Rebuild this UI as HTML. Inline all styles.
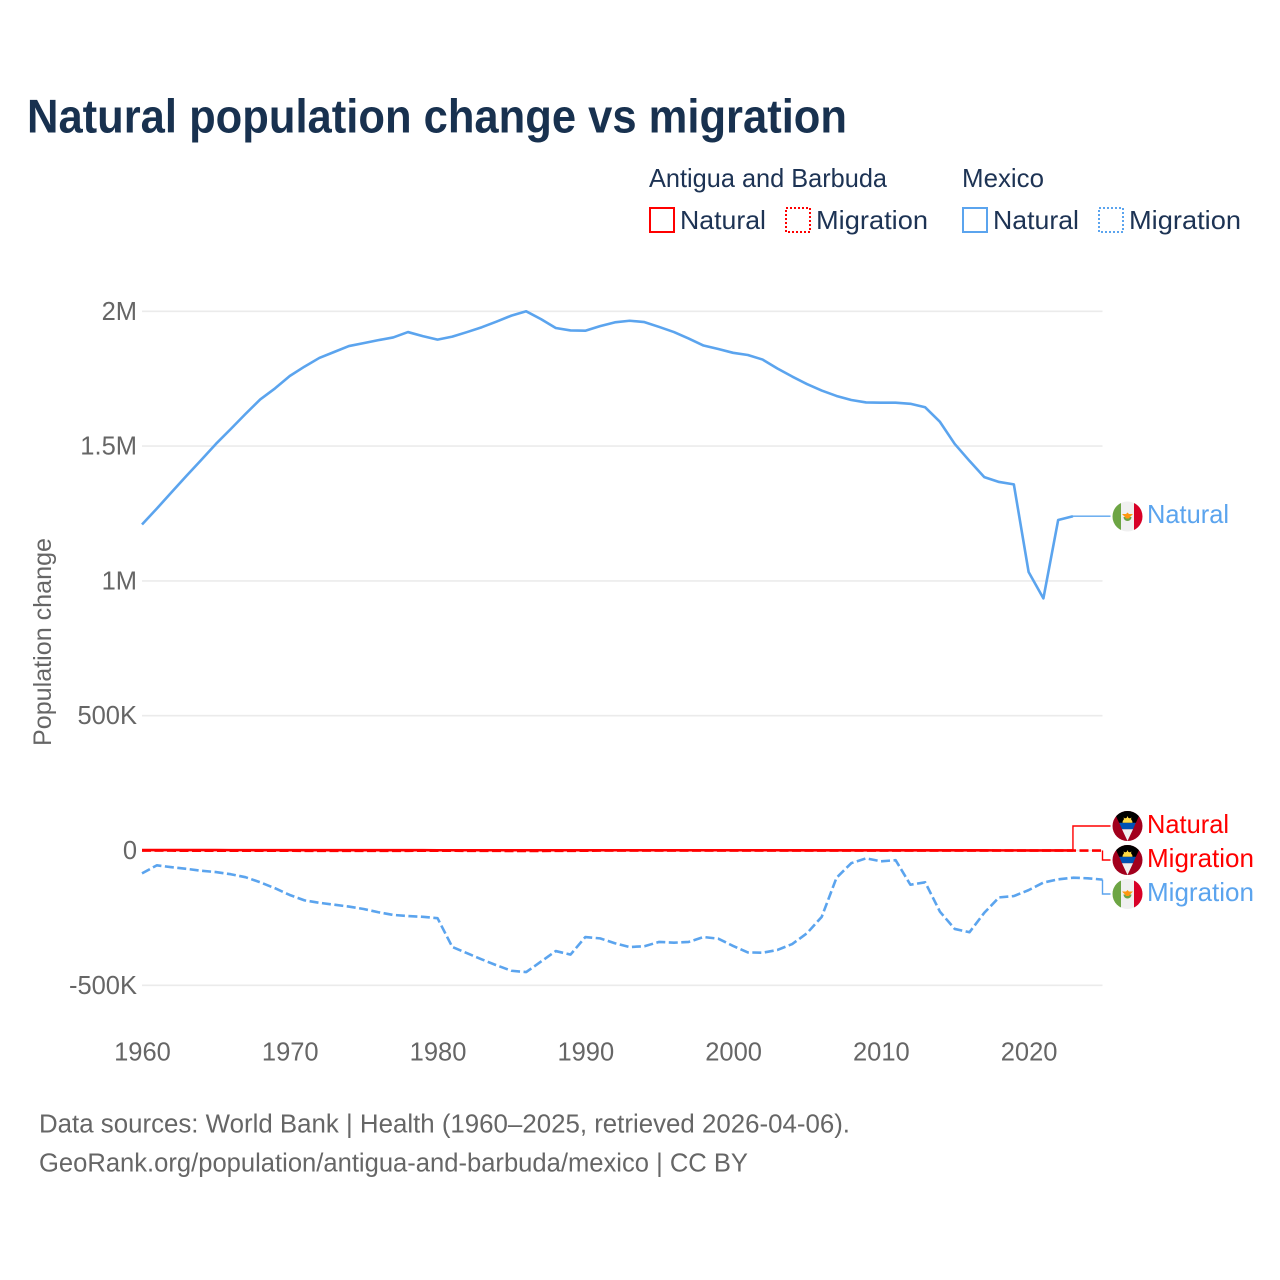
<!DOCTYPE html>
<html lang="en">
<head>
<meta charset="utf-8">
<title>Natural population change vs migration</title>
<style>
html,body{margin:0;padding:0;background:#fff;width:1280px;height:1280px;overflow:hidden}
svg{display:block;font-family:"Liberation Sans",sans-serif}
</style>
</head>
<body>
<svg id="chart" xmlns="http://www.w3.org/2000/svg" width="1280" height="1280" viewBox="0 0 1280 1280">
  <defs>
    <clipPath id="flag-clip"><circle cx="0" cy="0" r="15"/></clipPath>
    <g id="flag-ag" clip-path="url(#flag-clip)">
      <rect x="-15" y="-15" width="30" height="30" fill="#a2001d"/>
      <polygon points="-13.8,-15 13.8,-15 8.3,-3 -8.3,-3" fill="#000"/>
      <polygon points="-8.3,-3.2 8.3,-3.2 5.5,3.2 -5.5,3.2" fill="#0052b4"/>
      <polygon points="-5.5,3.2 5.5,3.2 0,15" fill="#f0f0f0"/>
      <path d="M-5,-3.2 A5,5 0 0 1 5,-3.2 Z" fill="#ffda44"/>
      <polygon points="0,-10 1.3,-7 4,-8.5 3,-5.5 -3,-5.5 -4,-8.5 -1.3,-7" fill="#ffda44"/>
    </g>
    <g id="flag-mx" clip-path="url(#flag-clip)">
      <rect x="-15" y="-15" width="30" height="30" fill="#f0f0f0"/>
      <rect x="-15" y="-15" width="8.5" height="30" fill="#6da544"/>
      <rect x="6.5" y="-15" width="8.5" height="30" fill="#d80027"/>
      <path d="M-4,0.5 A4,4 0 0 0 4,0.5 Z" fill="#6da544"/>
      <polygon points="-5.5,-2.5 -1.5,-2.5 0,-4 1.5,-2.5 5.5,-2.5 2.5,0.5 1.5,2 -1.5,2 -2.5,0.5" fill="#ff9811"/>
    </g>
  </defs>

  <text x="27" y="132.5" font-size="47" font-weight="700" fill="#18314f" textLength="820" lengthAdjust="spacingAndGlyphs">Natural population change vs migration</text>

  <g font-size="26" fill="#1d3354">
    <text x="649" y="187" textLength="238" lengthAdjust="spacingAndGlyphs">Antigua and Barbuda</text>
    <text x="962" y="187" textLength="82" lengthAdjust="spacingAndGlyphs">Mexico</text>
    <g>
      <rect x="650" y="208" width="24" height="24" fill="none" stroke="#ff0000" stroke-width="2"/>
      <text x="680" y="229" textLength="86" lengthAdjust="spacingAndGlyphs">Natural</text>
    </g>
    <g>
      <rect x="786" y="208" width="24" height="24" fill="none" stroke="#ff0000" stroke-width="2" stroke-dasharray="2 2"/>
      <text x="816" y="229" textLength="112" lengthAdjust="spacingAndGlyphs">Migration</text>
    </g>
    <g>
      <rect x="963" y="208" width="24" height="24" fill="none" stroke="#5ba4ee" stroke-width="2"/>
      <text x="993" y="229" textLength="86" lengthAdjust="spacingAndGlyphs">Natural</text>
    </g>
    <g>
      <rect x="1099" y="208" width="24" height="24" fill="none" stroke="#5ba4ee" stroke-width="2" stroke-dasharray="2 2"/>
      <text x="1129" y="229" textLength="112" lengthAdjust="spacingAndGlyphs">Migration</text>
    </g>
  </g>

  <g id="grid"></g>
  <g id="yticks" font-size="25.5" fill="#666" text-anchor="end"></g>
  <g id="xticks" font-size="25.5" fill="#666" text-anchor="middle"></g>
  <text transform="translate(51,642) rotate(-90)" text-anchor="middle" font-size="25" fill="#666" textLength="208" lengthAdjust="spacingAndGlyphs">Population change</text>
  <g id="series"></g>
  <g id="connectors"></g>

  <g font-size="26">
    <use href="#flag-mx" x="1127.5" y="516.5"/>
    <text x="1147" y="523" fill="#5ba4ee" textLength="82" lengthAdjust="spacingAndGlyphs">Natural</text>
    <use href="#flag-ag" x="1127.5" y="826"/>
    <text x="1147" y="833" fill="#ff0000" textLength="82" lengthAdjust="spacingAndGlyphs">Natural</text>
    <use href="#flag-ag" x="1127.5" y="860"/>
    <text x="1147" y="867" fill="#ff0000" textLength="107" lengthAdjust="spacingAndGlyphs">Migration</text>
    <use href="#flag-mx" x="1127.5" y="894"/>
    <text x="1147" y="901" fill="#5ba4ee" textLength="107" lengthAdjust="spacingAndGlyphs">Migration</text>
  </g>

  <g font-size="25.5" fill="#666">
    <text x="39" y="1132.5" textLength="811" lengthAdjust="spacingAndGlyphs">Data sources: World Bank | Health (1960–2025, retrieved 2026-04-06).</text>
    <text x="39" y="1171.5" textLength="709" lengthAdjust="spacingAndGlyphs">GeoRank.org/population/antigua-and-barbuda/mexico | CC BY</text>
  </g>
</svg>

<script>
// Values in thousands of people per year, starting at firstYear.
const firstYear = 1960;
const mexicoNatural = [1209,1268,1329,1389,1448,1508,1563,1619,1673,1714,
  1760,1795,1827,1849,1871,1882,1893,1903,1923,1908,
  1895,1906,1923,1941,1962,1984,2000,1971,1938,1929,
  1928,1945,1959,1965,1960,1942,1923,1899,1873,1860,
  1846,1838,1821,1788,1758,1730,1706,1686,1671,1662,
  1661,1661,1657,1644,1590,1508,1445,1385,1367,1358,
  1033,935,1226,1240];
const mexicoMigration = [-85,-55,-62,-68,-75,-80,-88,-99,-118,-140,
  -165,-185,-194,-201,-208,-217,-229,-239,-243,-246,
  -251,-358,-381,-404,-426,-446,-451,-412,-373,-386,
  -321,-326,-344,-358,-355,-339,-342,-339,-321,-327,
  -354,-378,-379,-369,-347,-307,-246,-101,-47,-29,
  -40,-36,-127,-118,-227,-291,-303,-231,-174,-169,
  -147,-119,-107,-101,-103,-108];
const antiguaNatural = [1.6,1.6,1.6,1.6,1.5,1.5,1.4,1.4,1.3,1.3,
  1.3,1.3,1.2,1.2,1.2,1.2,1.1,1.1,1.1,1.1,
  0.9,0.9,0.9,0.9,0.9,0.9,0.9,0.9,0.9,0.9,
  0.9,0.9,0.9,0.9,0.9,0.9,0.9,0.9,0.9,0.9,
  0.9,0.9,0.9,0.9,0.8,0.8,0.8,0.8,0.8,0.8,
  0.8,0.8,0.7,0.7,0.7,0.7,0.6,0.6,0.5,0.5,
  0.4,0.3,0.4,0.4];
const antiguaMigration = [-0.5,-0.5,-0.5,-0.6,-0.6,-0.6,-0.7,-0.8,-0.8,-0.9,
  -0.9,-1.0,-1.0,-1.1,-1.2,-1.2,-1.2,-1.1,-1.0,-0.8,
  -0.7,-0.9,-1.2,-1.3,-1.4,-1.5,-1.5,-1.5,-1.4,-1.3,
  -0.6,-0.5,-0.4,-0.4,-0.3,-0.3,-0.3,-0.3,-0.3,-0.3,
  -0.2,-0.2,-0.2,-0.2,-0.2,-0.2,-0.2,-0.2,-0.2,-0.2,
  -0.1,-0.1,-0.1,-0.1,-0.1,-0.1,-0.1,-0.1,-0.1,-0.1,
  -0.1,-0.1,-0.1,-0.1,-0.1,-0.1];
const yTickValues = [-500,0,500,1000,1500,2000];
const yTickLabels = ["-500K","0","500K","1M","1.5M","2M"];
const xTickYears = [1960,1970,1980,1990,2000,2010,2020];

const NS = "http://www.w3.org/2000/svg";
const plotLeft = 142, plotRight = 1102.5;
const xScale = function (year) { return plotLeft + (year - 1960) * (plotRight - plotLeft) / 65; };
const yScale = function (k) { return 850.5 - k * 134.8 / 500; };
const BLUE = "#5ba4ee", RED = "#ff0000";

const gridG = document.getElementById("grid");
const yG = document.getElementById("yticks");
yTickValues.forEach(function (v, i) {
  const ln = document.createElementNS(NS, "line");
  
  
  ln.setAttribute("x1", plotLeft);
  ln.setAttribute("x2", plotRight);
  ln.setAttribute("y1", yScale(v));
  ln.setAttribute("y2", yScale(v));
  ln.setAttribute("stroke", "#ebebeb");
  ln.setAttribute("stroke-width", "1.6");
  gridG.appendChild(ln);
  const t = document.createElementNS(NS, "text");
  
  
  t.setAttribute("x", 137);
  t.setAttribute("y", yScale(v) + 8.5);
  t.textContent = yTickLabels[i];
  yG.appendChild(t);
});

const xG = document.getElementById("xticks");
xTickYears.forEach(function (yr) {
  const t = document.createElementNS(NS, "text");
  
  
  t.setAttribute("x", xScale(yr) + 0.5);
  t.setAttribute("y", 1060.5);
  t.textContent = String(yr);
  xG.appendChild(t);
});

function linePoints(values) {
  return values.map(function (v, i) {
    return xScale(firstYear + i).toFixed(2) + "," + yScale(v).toFixed(2);
  }).join(" ");
}

const seriesG = document.getElementById("series");
function drawLine(values, color, dashed, name) {
  const p = document.createElementNS(NS, "polyline");
  
  
  p.setAttribute("points", linePoints(values));
  p.setAttribute("fill", "none");
  p.setAttribute("stroke", color);
  p.setAttribute("stroke-width", "2.6");
  p.setAttribute("stroke-linejoin", "round");
  if (dashed) p.setAttribute("stroke-dasharray", "9 3.5");
  seriesG.appendChild(p);
}
drawLine(mexicoNatural, BLUE, false, "line-mexico-natural");
drawLine(mexicoMigration, BLUE, true, "line-mexico-migration");
drawLine(antiguaMigration, RED, true, "line-antigua-migration");
drawLine(antiguaNatural, RED, false, "line-antigua-natural");

const connG = document.getElementById("connectors");
function drawConnector(values, color, labelY, name) {
  const i = values.length - 1;
  const ex = xScale(firstYear + i), ey = yScale(values[i]);
  const p = document.createElementNS(NS, "polyline");
  
  
  p.setAttribute("points", ex + "," + ey + " " + ex + "," + labelY + " 1110.5," + labelY);
  p.setAttribute("fill", "none");
  p.setAttribute("stroke", color);
  p.setAttribute("stroke-width", "1.4");
  connG.appendChild(p);
}
drawConnector(mexicoNatural, BLUE, yScale(mexicoNatural[mexicoNatural.length - 1]), "connector-mexico-natural");
drawConnector(antiguaNatural, RED, 826, "connector-antigua-natural");
drawConnector(antiguaMigration, RED, 860, "connector-antigua-migration");
drawConnector(mexicoMigration, BLUE, 894, "connector-mexico-migration");
</script>
</body>
</html>
